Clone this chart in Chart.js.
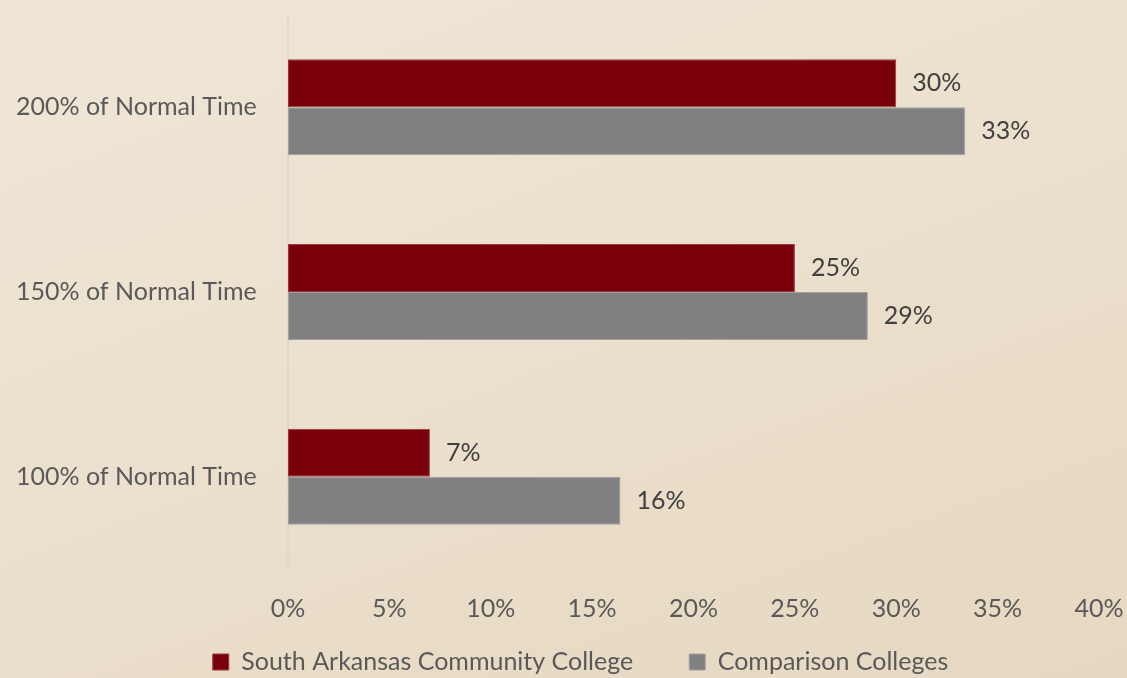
<!DOCTYPE html>
<html>
<head>
<meta charset="utf-8">
<script src="https://cdn.jsdelivr.net/npm/chart.js@4/dist/chart.umd.min.js"></script>
<style>
  html, body { margin:0; padding:0; }
  body { width:1127px; height:678px; background: linear-gradient(160deg, #efe6d7 0%, #ebe0cd 50%, #e6d8c1 100%); overflow:hidden; }
  #wrap { position:relative; width:1127px; height:678px; }
</style>
</head>
<body>
<div id="wrap"><canvas id="c" width="1127" height="678"></canvas></div>
<script>
const categories = ["200% of Normal Time", "150% of Normal Time", "100% of Normal Time"];
const seriesNames = ["South Arkansas Community College", "Comparison Colleges"];
const saccValues = [30.0, 25.0, 7.0];
const comparisonValues = [33.4, 28.6, 16.4];
const xTicks = [0, 5, 10, 15, 20, 25, 30, 35, 40];

const FONT = "Lato, 'Open Sans', sans-serif";
const FS = 25;
const LEGEND_PAD = 56;
const LEGEND_BOX_H = 29;
const LEGEND_CENTER_Y = 662;
const LEGEND_SHIFT_X = 9;

const dataLabelPlugin = {
  id: 'dataLabels',
  afterDatasetsDraw(chart) {
    const ctx = chart.ctx;
    ctx.save();
    ctx.font = FS + "px " + FONT;
    ctx.fillStyle = "#404040";
    ctx.textAlign = "left";
    ctx.textBaseline = "middle";
    chart.data.datasets.forEach((ds, di) => {
      const meta = chart.getDatasetMeta(di);
      meta.data.forEach((bar, i) => {
        ctx.fillText(Math.round(ds.data[i]) + "%", bar.x + 16, bar.y);
      });
    });
    ctx.restore();
  }
};

const legendFitPlugin = {
  id: 'legendFit',
  beforeUpdate(chart) {
    const lg = chart.legend;
    if (lg && !lg._fitWrapped) {
      const orig = lg.fit;
      lg.fit = function () { orig.call(this); this.height = LEGEND_BOX_H; };
      lg._fitWrapped = true;
    }
  },
  afterLayout(chart) {
    const lg = chart.legend;
    if (lg) {
      lg.top = LEGEND_CENTER_Y - LEGEND_PAD - FS / 2;
      lg.bottom = chart.height;
      lg.height = lg.bottom - lg.top;
      lg.left += LEGEND_SHIFT_X;
      lg.right += LEGEND_SHIFT_X;
    }
  }
};

new Chart(document.getElementById('c'), {
  type: 'bar',
  data: {
    labels: categories,
    datasets: [
      { label: seriesNames[0], data: saccValues, backgroundColor: '#79000b', borderColor: '#9a3a3f', borderWidth: 1, borderSkipped: false },
      { label: seriesNames[1], data: comparisonValues, backgroundColor: '#808080', borderColor: '#a0a0a0', borderWidth: 1, borderSkipped: false }
    ]
  },
  options: {
    indexAxis: 'y',
    responsive: false,
    animation: false,
    devicePixelRatio: 1,
    layout: { padding: { top: 1, right: 0, left: 16, bottom: 0 } },
    datasets: { bar: { categoryPercentage: 0.52, barPercentage: 1.0 } },
    scales: {
      x: {
        min: 0, max: 40,
        afterBuildTicks(scale) { scale.ticks = xTicks.map(v => ({ value: v })); },
        afterFit(scale) { scale.paddingRight = 28; },
        grid: { display: false, drawTicks: false },
        border: { display: false },
        ticks: { color: '#595959', font: { family: FONT, size: FS }, padding: 25, maxRotation: 0, callback: v => v + '%' }
      },
      y: {
        grid: { display: false, drawTicks: false },
        border: { display: true, color: '#d9d9d9', width: 2 },
        afterFit(scale) { scale.width = 272; },
        ticks: { color: '#595959', font: { family: FONT, size: FS }, padding: 0, crossAlign: 'far' }
      }
    },
    plugins: {
      legend: {
        position: 'bottom',
        labels: { color: '#595959', font: { family: FONT, size: FS }, boxWidth: 16, boxHeight: 16, padding: LEGEND_PAD }
      },
      tooltip: { enabled: false }
    }
  },
  plugins: [dataLabelPlugin, legendFitPlugin]
});
</script>
</body>
</html>
